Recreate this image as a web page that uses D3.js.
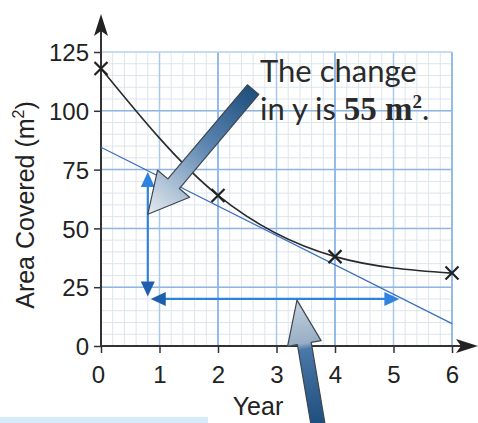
<!DOCTYPE html>
<html>
<head>
<meta charset="utf-8">
<script src="https://cdn.jsdelivr.net/npm/d3@7"></script>
<style>
  body { margin: 0; background: #fff; }
  svg { display: block; }
</style>
</head>
<body>
<div id="chart"></div>
<script>
// Data
const years = [0, 2, 4, 6];
const area = [118, 64, 38, 31];

// tangent drawn at year 3
const tangentYears = [0, 6];
const tangentArea = [84.5, 9.5];

// change-in-y / change-in-x arrows
const riseX = 0.8, riseFrom = 21, riseTo = 74;
const runY = 20, runFrom = 0.85, runTo = 5.1;

const xTicks = [0, 1, 2, 3, 4, 5, 6];
const yTicks = [0, 25, 50, 75, 100, 125];

const W = 478, H = 423;

const x = d3.scaleLinear().domain([0, 6]).range([101, 452]);
const y = d3.scaleLinear().domain([0, 125]).range([346, 52]);

const svg = d3.select('#chart').append('svg')
  .attr('width', W)
  .attr('height', H)
  .style('font-family', 'Arial, "Liberation Sans", sans-serif');

const defs = svg.append('defs');

const grad1 = defs.append('linearGradient')
  .attr('id', 'g1')
  .attr('gradientUnits', 'userSpaceOnUse')
  .attr('x1', x(2.6)).attr('y1', y(109))
  .attr('x2', x(0.8)).attr('y2', y(56));
grad1.append('stop').attr('offset', '0').attr('stop-color', '#1f4f7e');
grad1.append('stop').attr('offset', '0.45').attr('stop-color', '#5d86b0');
grad1.append('stop').attr('offset', '1').attr('stop-color', '#e6ebf0');

const grad2 = defs.append('linearGradient')
  .attr('id', 'g2')
  .attr('gradientUnits', 'userSpaceOnUse')
  .attr('x1', x(3.7)).attr('y1', H)
  .attr('x2', x(3.35)).attr('y2', y(19.5));
grad2.append('stop').attr('offset', '0').attr('stop-color', '#1f4f7e');
grad2.append('stop').attr('offset', '0.6').attr('stop-color', '#4a78a8');
grad2.append('stop').attr('offset', '0.65').attr('stop-color', '#98aec4');
grad2.append('stop').attr('offset', '1').attr('stop-color', '#c4d2e0');

// light blue strip at the bottom
svg.append('rect')
  .attr('x', 0).attr('y', 417)
  .attr('width', 208).attr('height', 6)
  .attr('fill', '#d6ecfa');

// grid
const grid = svg.append('g');
grid.selectAll('.vminor')
  .data(d3.range(0, 6.01, 0.2))
  .enter().append('line')
  .attr('x1', d => x(d)).attr('x2', d => x(d))
  .attr('y1', y(0)).attr('y2', y(125))
  .attr('stroke', '#dde5ed')
  .attr('stroke-width', 1);
grid.selectAll('.hminor')
  .data(d3.range(0, 125.1, 5))
  .enter().append('line')
  .attr('x1', x(0)).attr('x2', x(6))
  .attr('y1', d => y(d)).attr('y2', d => y(d))
  .attr('stroke', '#dde5ed')
  .attr('stroke-width', 1);
grid.selectAll('.vmajor')
  .data(xTicks.slice(1))
  .enter().append('line')
  .attr('x1', d => x(d)).attr('x2', d => x(d))
  .attr('y1', y(0)).attr('y2', y(125))
  .attr('stroke', d => d % 2 === 0 ? '#74aae6' : '#a9c9ec')
  .attr('stroke-width', 1.5);
grid.selectAll('.hmajor')
  .data(yTicks.slice(1))
  .enter().append('line')
  .attr('x1', x(0)).attr('x2', x(6))
  .attr('y1', d => y(d)).attr('y2', d => y(d))
  .attr('stroke', d => d === 125 ? '#b9d5f1' : '#8fb6e2')
  .attr('stroke-width', 1.5);

// axes
svg.append('g')
  .attr('transform', `translate(${x(0)},0)`)
  .call(d3.axisLeft(y).tickValues(yTicks).tickSize(7).tickSizeOuter(0))
  .call(g => g.select('.domain').remove())
  .call(g => g.selectAll('line').attr('stroke', '#333').attr('stroke-width', 1.5))
  .call(g => g.selectAll('text')
    .attr('x', -12)
    .attr('dy', '0.36em')
    .style('font-size', '24px')
    .attr('fill', '#222'));

svg.append('g')
  .attr('transform', `translate(0,${y(0)})`)
  .call(d3.axisBottom(x).tickValues(xTicks).tickFormat(d3.format('d')).tickSize(7).tickSizeOuter(0))
  .call(g => g.select('.domain').remove())
  .call(g => g.selectAll('line').attr('stroke', '#333').attr('stroke-width', 1.5))
  .call(g => g.selectAll('text')
    .attr('y', 20)
    .attr('dy', '0.71em')
    .style('font-size', '24px')
    .attr('fill', '#222'))
  .call(g => g.selectAll('.tick').filter(d => d === 0).select('text').attr('x', -3));

// axis lines with arrow heads
svg.append('line')
  .attr('x1', x(0)).attr('x2', x(0))
  .attr('y1', y(0) + 1).attr('y2', 30)
  .attr('stroke', '#333').attr('stroke-width', 2);
svg.append('path')
  .attr('d', `M${x(0)},14 L${x(0) - 7},36 L${x(0)},31 L${x(0) + 7},36 Z`)
  .attr('fill', '#222');
svg.append('line')
  .attr('x1', x(0) - 1).attr('x2', W - 10)
  .attr('y1', y(0)).attr('y2', y(0))
  .attr('stroke', '#333').attr('stroke-width', 2);
svg.append('path')
  .attr('d', `M${W},${y(0)} L${W - 22},${y(0) - 7} L${W - 17},${y(0)} L${W - 22},${y(0) + 7} Z`)
  .attr('fill', '#222');

// axis titles
const yTitle = svg.append('text')
  .attr('transform', `translate(34,${y(62.5) + 6}) rotate(-90)`)
  .attr('text-anchor', 'middle')
  .style('font-size', '25px')
  .attr('fill', '#222');
yTitle.append('tspan').text('Area Covered (m');
yTitle.append('tspan').attr('dy', -10).style('font-size', '16px').text('2');
yTitle.append('tspan').attr('dy', 10).text(')');

svg.append('text')
  .attr('x', 258).attr('y', 415)
  .attr('text-anchor', 'middle')
  .style('font-size', '25px')
  .attr('fill', '#222')
  .text('Year');

// tangent line
const pts = tangentYears.map((d, i) => [d, tangentArea[i]]);
svg.append('path')
  .datum(pts)
  .attr('fill', 'none')
  .attr('stroke', '#3f6fbf')
  .attr('stroke-width', 1.3)
  .attr('d', d3.line().x(d => x(d[0])).y(d => y(d[1])));

// curve through the points
const data = years.map((d, i) => ({ year: d, area: area[i] }));
svg.append('path')
  .datum(data)
  .attr('fill', 'none')
  .attr('stroke', '#2a2a2a')
  .attr('stroke-width', 1.6)
  .attr('d', d3.line().x(d => x(d.year)).y(d => y(d.area)).curve(d3.curveMonotoneX));

// crosses
svg.selectAll('.cross')
  .data(data)
  .enter().append('path')
  .attr('d', d => {
    const cx = x(d.year), cy = y(d.area), s = 6.5;
    return `M${cx - s},${cy - s}L${cx + s},${cy + s}M${cx - s},${cy + s}L${cx + s},${cy - s}`;
  })
  .attr('stroke', '#222')
  .attr('stroke-width', 2.2);

// blue rise / run arrows
const blue = '#2f82e0';
function arrowHead(px, py, dir, color) {
  const L = 15, hw = 7;
  let d;
  if (dir === 'up') d = `M${px},${py} L${px - hw},${py + L} L${px + hw},${py + L} Z`;
  if (dir === 'down') d = `M${px},${py} L${px - hw},${py - L} L${px + hw},${py - L} Z`;
  if (dir === 'left') d = `M${px},${py} L${px + L},${py - hw} L${px + L},${py + hw} Z`;
  if (dir === 'right') d = `M${px},${py} L${px - L},${py - hw} L${px - L},${py + hw} Z`;
  svg.append('path').attr('d', d).attr('fill', color);
}
svg.append('line')
  .attr('x1', x(riseX)).attr('x2', x(riseX))
  .attr('y1', y(riseTo) + 10).attr('y2', y(riseFrom) - 10)
  .attr('stroke', blue).attr('stroke-width', 2.2);
arrowHead(x(riseX), y(riseTo), 'up', blue);
arrowHead(x(riseX), y(riseFrom), 'down', '#1d5fae');
svg.append('line')
  .attr('x1', x(runFrom) + 10).attr('x2', x(runTo) - 10)
  .attr('y1', y(runY)).attr('y2', y(runY))
  .attr('stroke', blue).attr('stroke-width', 2.2);
arrowHead(x(runFrom), y(runY), 'left', '#1d5fae');
arrowHead(x(runTo), y(runY), 'right', blue);

// block arrows
function blockArrow(tail, tip, shaftW, headW, headL, fill) {
  const dx = tip[0] - tail[0], dy = tip[1] - tail[1];
  const len = Math.hypot(dx, dy);
  const ux = dx / len, uy = dy / len;
  const nx = -uy, ny = ux;
  const bx = tip[0] - ux * headL, by = tip[1] - uy * headL;
  const p = [
    [tail[0] + nx * shaftW / 2, tail[1] + ny * shaftW / 2],
    [bx + nx * shaftW / 2, by + ny * shaftW / 2],
    [bx + nx * headW / 2, by + ny * headW / 2],
    tip,
    [bx - nx * headW / 2, by - ny * headW / 2],
    [bx - nx * shaftW / 2, by - ny * shaftW / 2],
    [tail[0] - nx * shaftW / 2, tail[1] - ny * shaftW / 2]
  ];
  svg.append('path')
    .attr('d', 'M' + p.map(q => q.join(',')).join('L') + 'Z')
    .attr('fill', fill)
    .attr('stroke', '#3c4650')
    .attr('stroke-width', 1.2)
    .attr('stroke-linejoin', 'round');
}
blockArrow([x(2.6), y(109)], [x(0.8), y(56)], 15, 42, 40, 'url(#g1)');
blockArrow([x(3.72), H + 5], [x(3.35), y(19.5)], 14, 34, 44, 'url(#g2)');

// annotation text
const note = svg.append('text')
  .attr('fill', '#2a2a2a')
  .style('font-family', '"Lato", "Open Sans", sans-serif')
  .style('font-size', '31px');
note.append('tspan').attr('x', 260).attr('y', 82).text('The change');
const l2 = note.append('tspan').attr('x', 260).attr('y', 120);
l2.append('tspan').text('in y is ');
l2.append('tspan')
  .style('font-family', '"Liberation Serif", serif')
  .style('font-weight', 'bold')
  .style('font-size', '33px')
  .text('55 m');
l2.append('tspan')
  .style('font-family', '"Liberation Serif", serif')
  .style('font-weight', 'bold')
  .style('font-size', '19px')
  .attr('dy', -12)
  .text('2');
l2.append('tspan').attr('dy', 12).text('.');
</script>
</body>
</html>
